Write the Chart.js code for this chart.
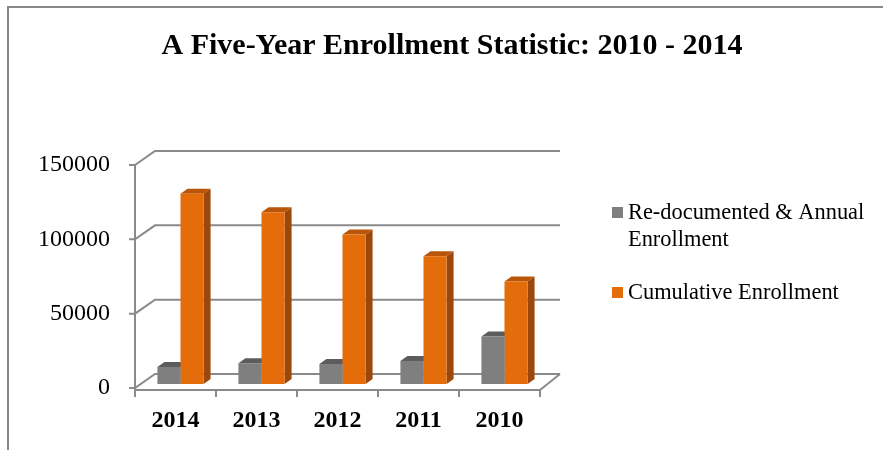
<!DOCTYPE html>
<html lang="en">
<head>
<meta charset="UTF-8">
<script src="https://cdn.jsdelivr.net/npm/chart.js"></script>
<title>enrollment 2010 - 2014</title>
<style>
  body { margin: 0; background: #fff; }
</style>
</head>
<body>
<canvas id="myChart" width="883" height="450"></canvas>
<script>
// dados
const anos = ['2014', '2013', '2012', '2011', '2010'];
const anual = [11500, 14000, 13500, 15500, 32000];
const cumulativo = [128000, 115500, 100500, 86000, 69000];
const ticksY = [0, 50000, 100000, 150000];
const nomes = [['Re-documented & Annual', 'Enrollment'], ['Cumulative Enrollment']];
const titulo = 'A Five-Year Enrollment Statistic: 2010 - 2014';

const cores = ['#7f7f7f', '#e46c0a'];
const coresTopo = ['#5c5c5c', '#b9560a'];
const coresLado = ['#666666', '#9c470c'];

const linha = '#8a8a8a';
const fundo = { dx: 20, dy: -14 };   // parede do fundo
const meio = { dx: 5, dy: -4 };      // plano das barras
const prof = { dx: 7, dy: -5 };      // profundidade das barras

const serif = '"Liberation Serif", "Times New Roman", serif';

const efeito3d = {
    id: 'efeito3d',
    beforeDraw(chart) {
        const ctx = chart.ctx;
        const x = chart.scales.x, y = chart.scales.y;
        ctx.save();
        ctx.fillStyle = '#fff';
        ctx.fillRect(0, 0, chart.width, chart.height);

        // moldura
        ctx.strokeStyle = '#888';
        ctx.lineWidth = 2;
        ctx.beginPath();
        ctx.moveTo(8, 450);
        ctx.lineTo(8, 7);
        ctx.lineTo(883, 7);
        ctx.stroke();

        // paredes e linhas de grade
        ctx.strokeStyle = linha;
        ctx.lineWidth = 2;
        const esq = x.left, dir = x.right;
        ticksY.forEach(v => {
            const py = y.getPixelForValue(v);
            ctx.beginPath();
            ctx.moveTo(esq - 6, py);
            ctx.lineTo(esq, py);
            ctx.lineTo(esq + fundo.dx, py + fundo.dy);
            ctx.lineTo(dir + fundo.dx, py + fundo.dy);
            ctx.stroke();
        });
        const y0 = y.getPixelForValue(0) + 2;
        const yTop = y.getPixelForValue(ticksY[ticksY.length - 1]);
        ctx.beginPath();
        ctx.moveTo(esq, yTop);
        ctx.lineTo(esq, y0);
        ctx.lineTo(dir, y0);
        ctx.lineTo(dir + fundo.dx, y.getPixelForValue(0) + fundo.dy);
        ctx.stroke();
        const passo = x.width / anos.length;
        for (let i = 0; i <= anos.length; i++) {
            const px = esq + i * passo;
            ctx.beginPath();
            ctx.moveTo(px, y0);
            ctx.lineTo(px, y0 + 7);
            ctx.stroke();
        }

        // titulo
        ctx.fillStyle = '#000';
        ctx.font = 'bold 30px ' + serif;
        ctx.textAlign = 'center';
        ctx.textBaseline = 'alphabetic';
        ctx.fillText(titulo, 452, 54);

        // legenda
        ctx.font = '22.4px ' + serif;
        ctx.textAlign = 'left';
        ctx.textBaseline = 'middle';
        const legY = [213, 293];
        nomes.forEach((linhas, i) => {
            ctx.fillStyle = cores[i];
            ctx.fillRect(612, legY[i] - 6, 11, 11);
            ctx.fillStyle = '#000';
            linhas.forEach((t, j) => ctx.fillText(t, 628, legY[i] + j * 27));
        });
        ctx.restore();
    },
    beforeDatasetsDraw(chart) {
        const ctx = chart.ctx;
        ctx.save();
        ctx.translate(meio.dx, meio.dy);
        for (let d = chart.data.datasets.length - 1; d >= 0; d--) {
            const meta = chart.getDatasetMeta(d);
            meta.data.forEach(el => {
                const p = el.getProps(['x', 'y', 'base', 'width'], true);
                const l = p.x - p.width / 2, r = p.x + p.width / 2;
                ctx.fillStyle = coresTopo[d];
                ctx.beginPath();
                ctx.moveTo(l, p.y);
                ctx.lineTo(r, p.y);
                ctx.lineTo(r + prof.dx, p.y + prof.dy);
                ctx.lineTo(l + prof.dx, p.y + prof.dy);
                ctx.closePath();
                ctx.fill();
                ctx.fillStyle = coresLado[d];
                ctx.beginPath();
                ctx.moveTo(r, p.y);
                ctx.lineTo(r + prof.dx, p.y + prof.dy);
                ctx.lineTo(r + prof.dx, p.base + prof.dy);
                ctx.lineTo(r, p.base);
                ctx.closePath();
                ctx.fill();
            });
        }
    },
    afterDatasetsDraw(chart) {
        chart.ctx.restore();
    }
};

const dados = {
    labels: anos,
    datasets: [
        { label: nomes[0].join(' '), data: anual, backgroundColor: cores[0] },
        { label: nomes[1].join(' '), data: cumulativo, backgroundColor: cores[1] }
    ]
};

const config = {
    type: 'bar',
    data: dados,
    options: {
        responsive: false,
        animation: false,
        devicePixelRatio: 1,
        layout: { padding: { top: 165, right: 343, bottom: 0, left: 0 } },
        datasets: { bar: { categoryPercentage: 0.57, barPercentage: 1, borderWidth: 0 } },
        plugins: {
            legend: { display: false },
            title: { display: false },
            tooltip: { enabled: false }
        },
        scales: {
            x: {
                grid: { display: false, drawTicks: false },
                border: { display: false },
                ticks: { color: '#000', padding: 18, font: { family: serif, size: 24, weight: 'bold' } },
                afterFit: s => { s.height = 62; }
            },
            y: {
                min: 0,
                max: 150000,
                grid: { display: false, drawTicks: false },
                border: { display: false },
                afterBuildTicks: s => { s.ticks = ticksY.map(v => ({ value: v })); },
                ticks: {
                    color: '#000',
                    padding: 25,
                    font: { family: serif, size: 24 },
                    callback: v => String(v)
                },
                afterFit: s => { s.width = 135; }
            }
        }
    },
    plugins: [efeito3d]
};

let myChart = new Chart(document.getElementById('myChart'), config);
</script>
</body>
</html>
